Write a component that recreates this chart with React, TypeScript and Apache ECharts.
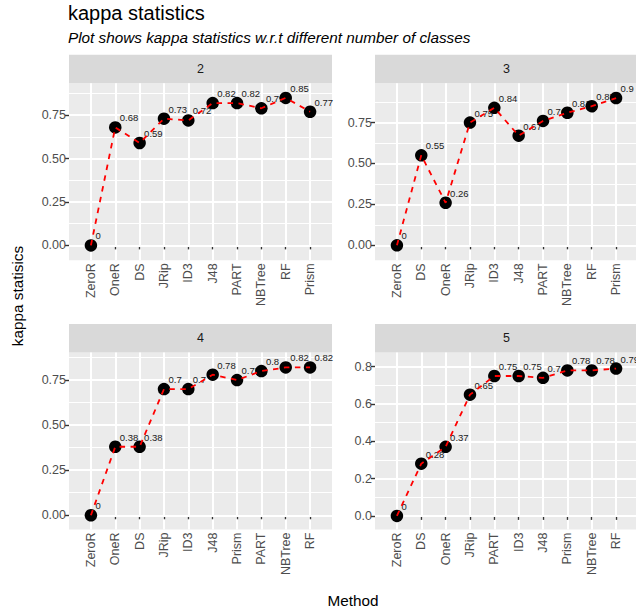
import React, { useEffect, useRef } from "react";
import * as echarts from "echarts";

// ---- data ----
const facetNames = ["2", "3", "4", "5"];

const cats2 = ["ZeroR", "OneR", "DS", "JRip", "ID3", "J48", "PART", "NBTree", "RF", "Prism"];
const vals2 = [0, 0.68, 0.59, 0.73, 0.72, 0.82, 0.82, 0.79, 0.85, 0.77];

const cats3 = ["ZeroR", "DS", "OneR", "JRip", "ID3", "J48", "PART", "NBTree", "RF", "Prism"];
const vals3 = [0, 0.55, 0.26, 0.75, 0.84, 0.67, 0.76, 0.81, 0.85, 0.9];

const cats4 = ["ZeroR", "OneR", "DS", "JRip", "ID3", "J48", "Prism", "PART", "NBTree", "RF"];
const vals4 = [0, 0.38, 0.38, 0.7, 0.7, 0.78, 0.75, 0.8, 0.82, 0.82];

const cats5 = ["ZeroR", "DS", "OneR", "JRip", "PART", "ID3", "J48", "Prism", "NBTree", "RF"];
const vals5 = [0, 0.28, 0.37, 0.65, 0.75, 0.75, 0.74, 0.78, 0.78, 0.79];

const majorTicksA = [0, 0.25, 0.5, 0.75];
const minorTicksA = [0.125, 0.375, 0.625, 0.875];
const majorTicksB = [0, 0.2, 0.4, 0.6, 0.8];
const minorTicksB = [0.1, 0.3, 0.5, 0.7];

const titleText = "kappa statistics";
const subtitleText = "Plot shows kappa statistics w.r.t different number of classes";
const yTitle = "kappa statisics";
const xTitle = "Method";

// ---- layout ----
const FONT = "Liberation Sans";
const panelW = 263;
const panelH = 177;
const panelLefts = [69, 375, 69, 375];
const panelTops = [83.3, 83.3, 352.5, 352.5];
const stripH = 28.5;
const yRanges = [
  [-0.086, 0.934],
  [-0.0915, 0.99],
  [-0.079, 0.903],
  [-0.073, 0.876],
];

const panelCats = [cats2, cats3, cats4, cats5];
const panelVals = [vals2, vals3, vals4, vals5];
const panelMajors = [majorTicksA, majorTicksA, majorTicksA, majorTicksB];
const panelMinors = [minorTicksA, minorTicksA, minorTicksA, minorTicksB];
const panelDigits = [2, 2, 2, 1];

function buildOption() {
  const unit = panelW / 10.8;
  const inset = 0.9 * unit;
  const grids: any[] = [];
  const xAxes: any[] = [];
  const yAxes: any[] = [];
  const series: any[] = [];
  const graphics: any[] = [];

  // background grids 0..3
  for (let i = 0; i < 4; i++) {
    grids.push({
      left: panelLefts[i],
      top: panelTops[i],
      width: panelW,
      height: panelH,
      show: true,
      backgroundColor: "#EBEBEB",
      borderWidth: 0,
      containLabel: false,
    });
  }
  // data grids 4..7
  for (let i = 0; i < 4; i++) {
    grids.push({
      left: panelLefts[i] + inset,
      top: panelTops[i],
      width: 9 * unit,
      height: panelH,
      show: false,
      containLabel: false,
    });
  }

  for (let i = 0; i < 4; i++) {
    xAxes.push({
      type: "value",
      gridIndex: i,
      min: 0,
      max: 1,
      show: false,
    });
  }
  for (let i = 0; i < 4; i++) {
    xAxes.push({
      type: "category",
      gridIndex: 4 + i,
      data: panelCats[i],
      boundaryGap: false,
      axisLine: { show: false },
      axisTick: { show: true, length: 4, lineStyle: { color: "#333333", width: 1.4 } },
      axisLabel: {
        interval: 0,
        rotate: 90,
        color: "#4D4D4D",
        fontSize: 12.5,
        fontFamily: FONT,
        margin: 3,
      },
      splitLine: { show: true, lineStyle: { color: "#FFFFFF", width: 2 } },
    });
  }

  // major y axes 0..3
  for (let i = 0; i < 4; i++) {
    const d = panelDigits[i];
    yAxes.push({
      type: "value",
      gridIndex: i,
      min: yRanges[i][0],
      max: yRanges[i][1],
      axisLine: { show: false },
      axisTick: {
        show: true,
        length: 4,
        customValues: panelMajors[i],
        lineStyle: { color: "#333333", width: 1.4 },
      },
      axisLabel: {
        show: true,
        customValues: panelMajors[i],
        formatter: (v: number) => v.toFixed(d),
        color: "#4D4D4D",
        fontSize: 12.5,
        fontFamily: FONT,
        margin: 3,
      },
      splitLine: { show: true, lineStyle: { color: "#FFFFFF", width: 2 } },
      z: 1,
    });
  }
  // minor y axes 4..7
  for (let i = 0; i < 4; i++) {
    yAxes.push({
      type: "value",
      gridIndex: i,
      min: yRanges[i][0],
      max: yRanges[i][1],
      axisLine: { show: false },
      axisTick: { show: false, customValues: panelMinors[i] },
      axisLabel: { show: false },
      splitLine: { show: true, lineStyle: { color: "#FFFFFF", width: 1 } },
      z: 0,
    });
  }
  // data y axes 8..11
  for (let i = 0; i < 4; i++) {
    yAxes.push({
      type: "value",
      gridIndex: 4 + i,
      min: yRanges[i][0],
      max: yRanges[i][1],
      show: false,
      splitLine: { show: false },
    });
  }

  for (let i = 0; i < 4; i++) {
    series.push({
      type: "scatter",
      name: "labels " + facetNames[i],
      xAxisIndex: 4 + i,
      yAxisIndex: 8 + i,
      data: panelVals[i],
      symbolSize: 12,
      clip: false,
      silent: true,
      z: 5,
      itemStyle: { color: "rgba(0,0,0,0)", opacity: 1 },
      label: {
        show: true,
        position: "inside",
        align: "left",
        verticalAlign: "middle",
        offset: [4.5, -9.5],
        fontSize: 9.5,
        fontFamily: FONT,
        color: "#1A1A1A",
        formatter: (p: any) => {
          const v = Array.isArray(p.value) ? p.value[1] : p.value;
          return String(Math.round(v * 100) / 100);
        },
      },
    });
    series.push({
      type: "scatter",
      name: "kappa " + facetNames[i],
      xAxisIndex: 4 + i,
      yAxisIndex: 8 + i,
      data: panelVals[i],
      symbol: "circle",
      symbolSize: 12.5,
      clip: false,
      z: 6,
      itemStyle: { color: "#000000", opacity: 1 },
    });
    series.push({
      type: "line",
      name: "trend " + facetNames[i],
      xAxisIndex: 4 + i,
      yAxisIndex: 8 + i,
      data: panelVals[i],
      showSymbol: false,
      clip: false,
      z: 7,
      lineStyle: { color: "#FF0000", width: 1.8, type: [5.5, 5.5] },
    });

    // strip
    graphics.push({
      type: "rect",
      shape: { x: panelLefts[i], y: panelTops[i] - stripH, width: panelW, height: stripH },
      style: { fill: "#D9D9D9" },
      silent: true,
    });
    graphics.push({
      type: "text",
      x: panelLefts[i] + panelW / 2,
      y: panelTops[i] - stripH / 2,
      style: {
        text: facetNames[i],
        fill: "#1A1A1A",
        fontSize: 12.5,
        fontFamily: FONT,
        align: "center",
        verticalAlign: "middle",
      },
      silent: true,
    });
  }

  graphics.push({
    type: "text",
    x: 68,
    y: 12.5,
    style: { text: titleText, fill: "#000000", fontSize: 20, fontFamily: FONT, align: "left", verticalAlign: "middle" },
  });
  graphics.push({
    type: "text",
    x: 68,
    y: 37.5,
    style: {
      text: subtitleText,
      fill: "#000000",
      fontSize: 15.3,
      fontStyle: "italic",
      fontFamily: FONT,
      align: "left",
      verticalAlign: "middle",
    },
  });
  graphics.push({
    type: "text",
    x: 17.5,
    y: 296,
    rotation: Math.PI / 2,
    style: { text: yTitle, fill: "#000000", fontSize: 15.3, fontFamily: FONT, align: "center", verticalAlign: "middle" },
  });
  graphics.push({
    type: "text",
    x: 353,
    y: 600.5,
    style: { text: xTitle, fill: "#000000", fontSize: 15.3, fontFamily: FONT, align: "center", verticalAlign: "middle" },
  });

  return {
    animation: false,
    backgroundColor: "#FFFFFF",
    grid: grids,
    xAxis: xAxes,
    yAxis: yAxes,
    series,
    graphic: graphics,
  };
}

export default function App() {
  const ref = useRef<HTMLDivElement>(null);
  useEffect(() => {
    if (!ref.current) return;
    const chart = echarts.init(ref.current, null, { renderer: "svg" });
    chart.setOption(buildOption());
    return () => chart.dispose();
  }, []);
  return (
    <div
      ref={ref}
      style={{ position: "absolute", left: 0, top: 0, width: 636, height: 612 }}
    />
  );
}
